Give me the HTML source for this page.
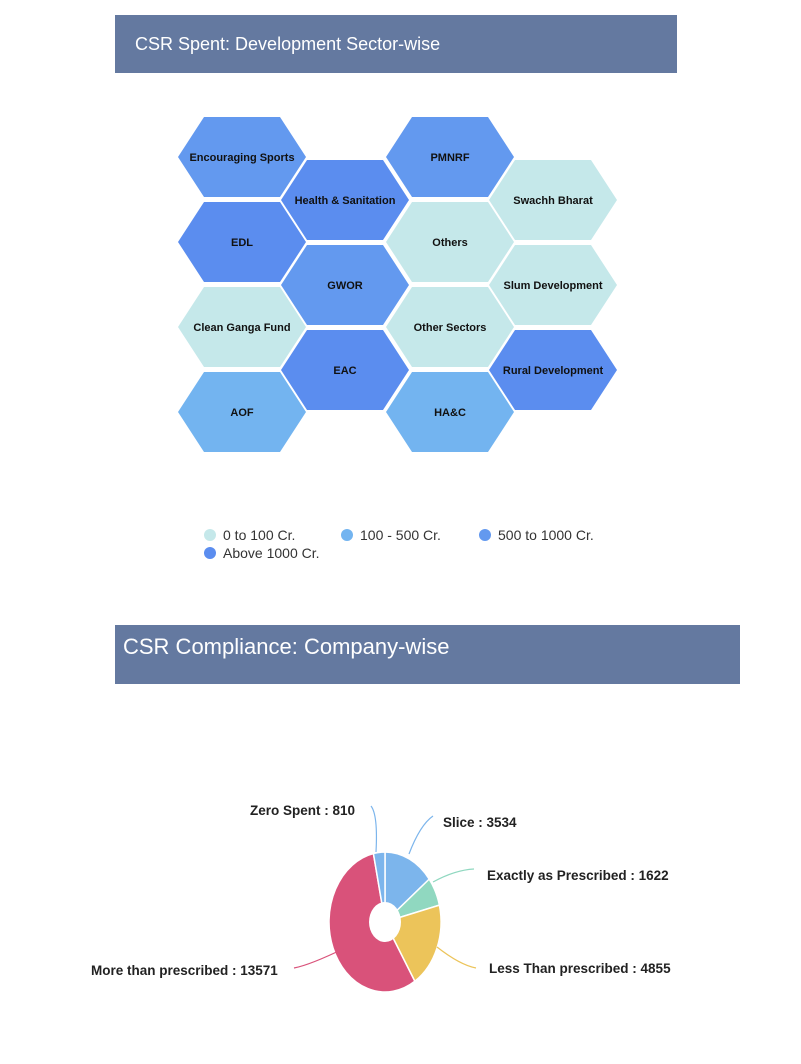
<!DOCTYPE html>
<html><head><meta charset="utf-8"><style>
html,body{margin:0;padding:0;background:#fff;}
svg{display:block;font-family:"Liberation Sans",sans-serif;}
</style></head><body>
<svg width="801" height="1064" viewBox="0 0 801 1064">
<rect x="115" y="15" width="562" height="58" fill="#6479a0"/>
<text x="135" y="50" fill="#fff" font-size="18">CSR Spent: Development Sector-wise</text>
<rect x="115" y="625" width="625" height="59" fill="#6479a0"/>
<text x="123" y="654" fill="#fff" font-size="22">CSR Compliance: Company-wise</text>

<defs><polygon id="h" points="-64,0 -38,-40 38,-40 64,0 38,40 -38,40"/></defs>
<g font-size="11" font-weight="bold" text-anchor="middle" fill="#111" stroke="none">
<use href="#h" x="242" y="157" fill="#6399ef"/><text x="242" y="161">Encouraging Sports</text>
<use href="#h" x="242" y="242" fill="#5b8def"/><text x="242" y="246">EDL</text>
<use href="#h" x="242" y="327" fill="#c5e8ea"/><text x="242" y="331">Clean Ganga Fund</text>
<use href="#h" x="242" y="412" fill="#73b4f0"/><text x="242" y="416">AOF</text>
<use href="#h" x="345" y="200" fill="#5b8def"/><text x="345" y="204">Health &amp; Sanitation</text>
<use href="#h" x="345" y="285" fill="#6399ef"/><text x="345" y="289">GWOR</text>
<use href="#h" x="345" y="370" fill="#5b8def"/><text x="345" y="374">EAC</text>
<use href="#h" x="450" y="157" fill="#6399ef"/><text x="450" y="161">PMNRF</text>
<use href="#h" x="450" y="242" fill="#c5e8ea"/><text x="450" y="246">Others</text>
<use href="#h" x="450" y="327" fill="#c5e8ea"/><text x="450" y="331">Other Sectors</text>
<use href="#h" x="450" y="412" fill="#73b4f0"/><text x="450" y="416">HA&amp;C</text>
<use href="#h" x="553" y="200" fill="#c5e8ea"/><text x="553" y="204">Swachh Bharat</text>
<use href="#h" x="553" y="285" fill="#c5e8ea"/><text x="553" y="289">Slum Development</text>
<use href="#h" x="553" y="370" fill="#5b8def"/><text x="553" y="374">Rural Development</text>
</g>

<g font-size="14" fill="#333">
<circle cx="210" cy="535" r="6" fill="#c5e8ea"/><text x="223" y="540">0 to 100 Cr.</text>
<circle cx="347" cy="535" r="6" fill="#73b4f0"/><text x="360" y="540">100 - 500 Cr.</text>
<circle cx="485" cy="535" r="6" fill="#6399ef"/><text x="498" y="540">500 to 1000 Cr.</text>
<circle cx="210" cy="553" r="6" fill="#5b8def"/><text x="223" y="558">Above 1000 Cr.</text>
</g>

<g transform="translate(385,922) scale(1,1.25)" stroke="#fff" stroke-width="1.5">
<path vector-effect="non-scaling-stroke" d="M0,0 L0,-56 A56,56 0 0 1 44.2,-34.3 Z" fill="#7cb5ec"/>
<path vector-effect="non-scaling-stroke" d="M0,0 L44.2,-34.3 A56,56 0 0 1 54.4,-13.5 Z" fill="#90d8c0"/>
<path vector-effect="non-scaling-stroke" d="M0,0 L54.4,-13.5 A56,56 0 0 1 29.8,47.4 Z" fill="#ecc45a"/>
<path vector-effect="non-scaling-stroke" d="M0,0 L29.8,47.4 A56,56 0 1 1 -11.6,-54.8 Z" fill="#d9527a"/>
<path vector-effect="non-scaling-stroke" d="M0,0 L-11.6,-54.8 A56,56 0 0 1 0,-56 Z" fill="#7cb5ec"/>
<circle r="16" fill="#fff" stroke="none"/>
</g>
<g fill="none" stroke-width="1.2">
<path d="M376,852 Q378,815 371,806" stroke="#7cb5ec"/>
<path d="M409,854 Q420,825 433,816" stroke="#7cb5ec"/>
<path d="M433,882 Q455,870 474,869" stroke="#90d8c0"/>
<path d="M437,947 Q460,965 476,968" stroke="#ecc45a"/>
<path d="M345,948 Q310,965 294,968" stroke="#d9527a"/>
</g>
<g font-size="13.5" font-weight="bold" fill="#222">
<text x="250" y="815">Zero Spent : 810</text>
<text x="443" y="827">Slice : 3534</text>
<text x="487" y="880">Exactly as Prescribed : 1622</text>
<text x="489" y="973">Less Than prescribed : 4855</text>
<text x="91" y="975">More than prescribed : 13571</text>
</g>
</svg>
</body></html>
